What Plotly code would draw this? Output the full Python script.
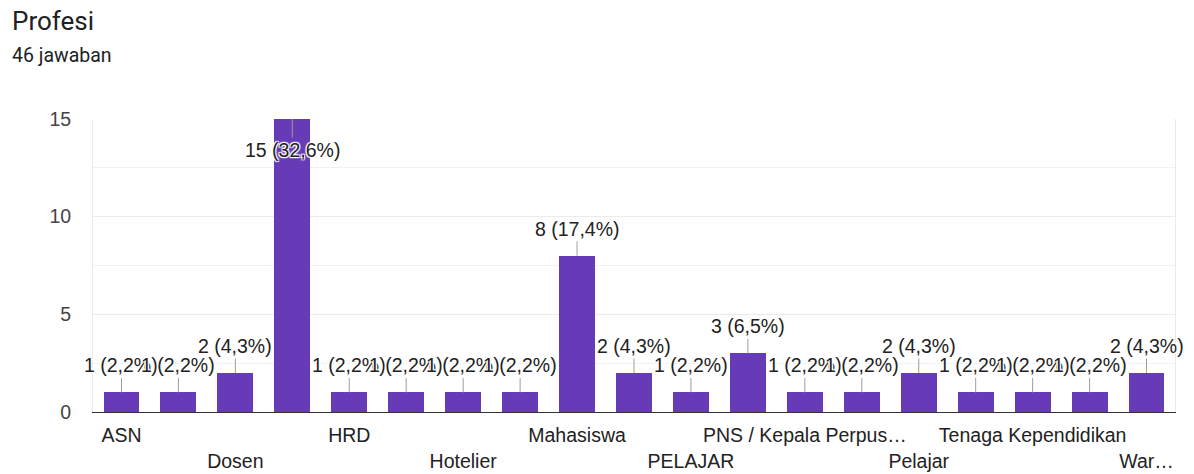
import plotly.graph_objects as go

# Data
categories = ["ASN", "", "Dosen", "", "HRD", "", "Hotelier", "", "Mahasiswa", "",
              "PELAJAR", "", "PNS / Kepala Perpus…", "", "Pelajar", "",
              "Tenaga Kependidikan", "", "War…"]
values = [1, 1, 2, 15, 1, 1, 1, 1, 8, 2, 1, 3, 1, 1, 2, 1, 1, 1, 2]
total_responses = 46
y_ticks = [0, 5, 10, 15]

title_text = "Profesi"
subtitle_text = "46 jawaban"

BAR = "#673ab7"
TXT = "#222222"
GRID = "#ebebeb"
FONT = "Liberation Sans, Arial, sans-serif"

# page body has an 8px margin, so the figure is offset by (8, 8)
OFF = 8
W, H = 1194 - OFF, 474 - OFF
ML, MR, MT, MB = 93 - OFF, 18.5, 119 - OFF, 61.5
plot_w = W - ML - MR
plot_h = H - MT - MB

x = list(range(len(values)))
ymax = max(y_ticks)

fig = go.Figure(go.Bar(
    x=x, y=values, marker=dict(color=BAR, line=dict(width=0)),
    width=0.63, hoverinfo="skip",
))

# tick labels: shown labels alternate between two rows
tickvals, ticktext = [], []
row = 0
for i, c in enumerate(categories):
    if c:
        tickvals.append(i)
        ticktext.append(c if row == 0 else "<br>" + c)
        row = 1 - row

halo = "1px 1px 1px #fff, -1px -1px 1px #fff, 1px -1px 1px #fff, -1px 1px 1px #fff, 0 0 2px #fff"
annotations = []
for i, v in enumerate(values):
    pct = f"{v / total_responses * 100:.1f}".replace(".", ",")
    inside = v >= ymax
    annotations.append(dict(
        x=i, y=v, xref="x", yref="y",
        text=f"{v} ({pct}%)",
        showarrow=True, arrowhead=0, arrowwidth=1, arrowcolor="#9e9e9e",
        ax=0, ay=31 if inside else -27,
        font=dict(family=FONT, size=19.5, color=TXT, shadow=halo),
    ))

annotations.append(dict(
    xref="paper", yref="paper",
    x=(10 - OFF - ML) / plot_w, y=(H - MB - (55 - OFF)) / plot_h,
    xanchor="left", yanchor="middle", showarrow=False,
    text=subtitle_text,
    font=dict(family="Roboto, sans-serif", size=19.5, color="#202124"),
))

fig.update_layout(
    width=W, height=H,
    margin=dict(l=ML, r=MR, t=MT, b=MB, pad=0, autoexpand=False),
    paper_bgcolor="white", plot_bgcolor="white",
    showlegend=False, bargap=0,
    title=dict(text=title_text, xref="container", yref="container",
               x=(12 - OFF) / W, y=1 - (21 - OFF) / H, xanchor="left", yanchor="middle",
               font=dict(family="Roboto, sans-serif", size=26, color="#202124")),
    xaxis=dict(
        range=[-0.5, len(values) - 0.5], tickmode="array",
        tickvals=tickvals, ticktext=ticktext, tickangle=0, automargin=False,
        showgrid=False, zeroline=False, showline=True,
        linecolor="#333333", linewidth=1, ticks="", ticklabelstandoff=6,
        tickfont=dict(family=FONT, size=19.5, color=TXT),
        fixedrange=True,
    ),
    yaxis=dict(
        range=[0, ymax], tickmode="array", tickvals=y_ticks, automargin=False,
        showgrid=True, gridcolor=GRID, gridwidth=1,
        minor=dict(dtick=2.5, showgrid=True, gridcolor="#f2f2f2", gridwidth=1),
        zeroline=False, showline=True, linecolor=GRID, mirror=True,
        ticks="", ticklabelstandoff=17,
        tickfont=dict(family=FONT, size=19.5, color="#444444"),
        fixedrange=True,
    ),
    annotations=annotations,
)

fig.write_html("out.html")
